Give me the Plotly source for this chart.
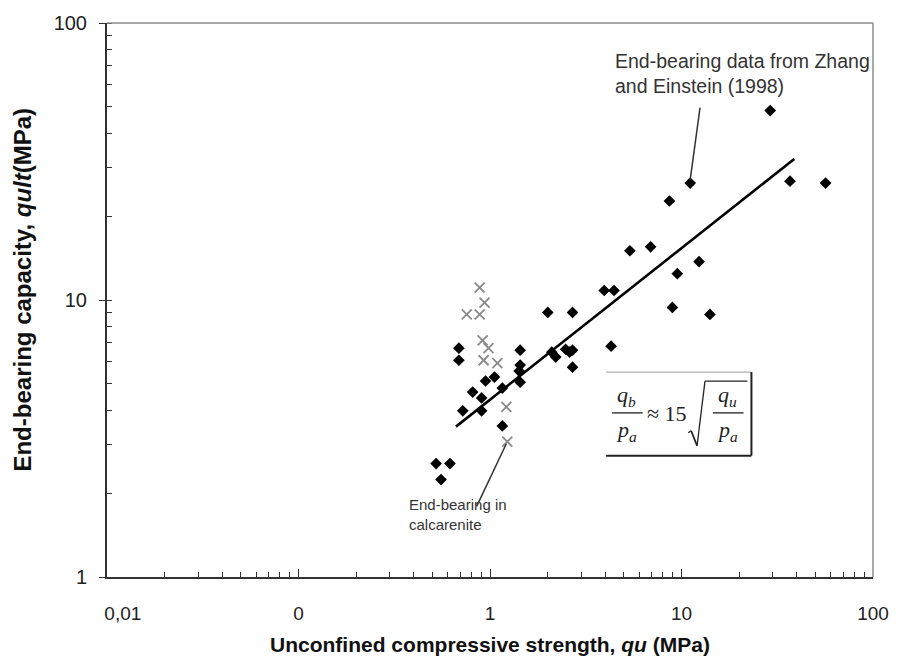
import plotly.graph_objects as go

# ---- data ----
zhang_qu = [0.523, 0.618, 0.555, 0.688, 0.688, 0.721, 0.812, 0.904, 0.904, 0.948,
            1.055, 1.160, 1.160, 1.437, 1.437, 1.420, 1.437, 2.004, 2.698, 2.102,
            2.204, 2.483, 2.603, 2.698, 2.698, 3.947, 4.443, 4.289, 5.375, 6.90,
            8.647, 9.508, 8.96, 11.10, 12.35, 14.08, 29.06, 36.86, 56.55]
zhang_qb = [2.567, 2.567, 2.248, 6.70, 6.06, 3.98, 4.65, 4.43, 3.98, 5.10,
            5.27, 4.81, 3.51, 6.59, 5.82, 5.54, 5.05, 9.02, 9.02, 6.48,
            6.22, 6.64, 6.48, 6.59, 5.72, 10.82, 10.82, 6.81, 15.06, 15.56,
            22.77, 12.45, 9.40, 26.42, 13.75, 8.87, 48.3, 26.86, 26.42]
calc_qu = [0.883, 0.937, 0.756, 0.883, 0.915, 0.982, 0.926, 1.093, 1.217, 1.231]
calc_qb = [11.09, 9.79, 8.87, 8.87, 7.15, 6.70, 6.06, 5.92, 4.11, 3.08]
fit_qu = [0.664, 38.8]
fit_qb = [3.49, 32.3]

x_tickvals = [0.01, 0.1, 1, 10, 100]
x_ticktext = ["&nbsp;&nbsp;&nbsp;&nbsp;&nbsp;&nbsp;0,01", "0", "1", "10", "100"]
y_tickvals = [1, 10, 100]
y_ticktext = ["1", "10", "100"]

W, H = 901, 669
L, R, T, B = 107, 19, 20, 92
PW, PH = W - L - R, H - T - B


def px(x, y):
    return (x - L) / PW, (H - B - y) / PH


fig = go.Figure()
fig.add_trace(go.Scatter(x=calc_qu, y=calc_qb, mode="markers",
                         marker=dict(symbol="x-thin", size=10, color="#8a8a8a",
                                     line=dict(width=1.8, color="#8a8a8a")),
                         showlegend=False))
fig.add_trace(go.Scatter(x=zhang_qu, y=zhang_qb, mode="markers",
                         marker=dict(symbol="diamond", size=9, color="black"),
                         showlegend=False))
fig.add_trace(go.Scatter(x=fit_qu, y=fit_qb, mode="lines",
                         line=dict(color="black", width=2.6), showlegend=False))

shapes = []
# plot frame (top, right)
shapes.append(dict(type="line", xref="paper", yref="paper", x0=0, x1=1, y0=1, y1=1,
                   line=dict(color="#8c8c8c", width=1.5)))
shapes.append(dict(type="line", xref="paper", yref="paper", x0=1, x1=1, y0=0, y1=1,
                   line=dict(color="#8c8c8c", width=1.5)))
# pointer lines
for (xa, ya, xb, yb) in [(707, 105, 697, 178), (481, 506, 511, 443)]:
    a = px(xa, ya); b = px(xb, yb)
    shapes.append(dict(type="line", xref="paper", yref="paper", x0=a[0], y0=a[1],
                       x1=b[0], y1=b[1], line=dict(color="#333333", width=1.5)))
# formula box
for (xa, ya, xb, yb, c, w) in [(612, 371, 759, 371, "#9a9a9a", 1),
                               (759, 371, 759, 455, "#222222", 2),
                               (612, 455, 759, 455, "#222222", 2)]:
    a = px(xa, ya); b = px(xb, yb)
    shapes.append(dict(type="line", xref="paper", yref="paper", x0=a[0], y0=a[1],
                       x1=b[0], y1=b[1], line=dict(color=c, width=w)))
# fraction bars and radical
for (xa, ya, xb, yb, w) in [(618, 412, 649, 412, 1.3), (720, 412, 751, 412, 1.3),
                            (712, 380, 755, 380, 1.3), (712, 380, 704, 445, 1.3),
                            (704, 445, 698, 430, 1.8), (698, 430, 695, 432, 1.2)]:
    a = px(xa, ya); b = px(xb, yb)
    shapes.append(dict(type="line", xref="paper", yref="paper", x0=a[0], y0=a[1],
                       x1=b[0], y1=b[1], line=dict(color="#222222", width=w)))

annotations = []


def ann(x, y, text, size=17, color="#333333", family="Liberation Sans", xanchor="left",
        align="left", angle=0):
    p = px(x, y)
    annotations.append(dict(xref="paper", yref="paper", x=p[0], y=p[1], text=text,
                            showarrow=False, xanchor=xanchor, yanchor="middle",
                            align=align, textangle=angle,
                            font=dict(size=size, color=color, family=family)))


ann(619, 71, "End-bearing data from Zhang<br>and Einstein (1998)", size=19.5)
ann(411, 514, "End-bearing in<br>calcarenite", size=15)
serif = "Liberation Serif"
ann(633, 395, "<i>q</i><sub><i>b</i></sub>", size=22, color="#222222", family=serif, xanchor="center")
ann(633, 430, "<i>p</i><sub><i>a</i></sub>", size=22, color="#222222", family=serif, xanchor="center")
ann(651, 413, "≈ 15", size=22, color="#222222", family=serif, xanchor="left")
ann(735, 395, "<i>q</i><sub><i>u</i></sub>", size=22, color="#222222", family=serif, xanchor="center")
ann(735, 430, "<i>p</i><sub><i>a</i></sub>", size=22, color="#222222", family=serif, xanchor="center")
# y-axis title
ann(22, 288, "<b>End-bearing capacity, <i>qult</i>(MPa)</b>", size=24, color="#111111",
    xanchor="center", align="center", angle=-90)

fig.update_layout(
    width=W, height=H,
    margin=dict(l=L, r=R, t=T, b=B),
    plot_bgcolor="white", paper_bgcolor="white",
    shapes=shapes, annotations=annotations,
    font=dict(family="Liberation Sans", color="#222222"),
)
fig.update_xaxes(
    type="log", range=[-2, 2], tickvals=x_tickvals, ticktext=x_ticktext,
    ticks="inside", ticklen=8, tickcolor="#333333", tickwidth=1.2,
    showline=True, linecolor="#333333", linewidth=2, showgrid=False, zeroline=False,
    tickfont=dict(size=19, color="#222222"), ticklabelstandoff=18,
    minor=dict(ticks="inside", ticklen=5, tickcolor="#333333", tickwidth=1.2,
               dtick="D1", showgrid=False),
    title=dict(text="<b>Unconfined compressive strength, <i>qu</i> (MPa)</b>",
               font=dict(size=21, color="#111111", family="Liberation Sans"),
               standoff=15),
)
fig.update_yaxes(
    type="log", range=[0, 2], tickvals=y_tickvals, ticktext=y_ticktext,
    ticks="outside", ticklen=6, tickcolor="#333333", tickwidth=1.2,
    showline=True, linecolor="#333333", linewidth=2, showgrid=False, zeroline=False,
    tickfont=dict(size=20, color="#222222"), ticklabelstandoff=8,
    minor=dict(ticks="inside", ticklen=5, tickcolor="#333333", tickwidth=1.2,
               dtick="D1", showgrid=False),
)

fig.write_html("out.html")
